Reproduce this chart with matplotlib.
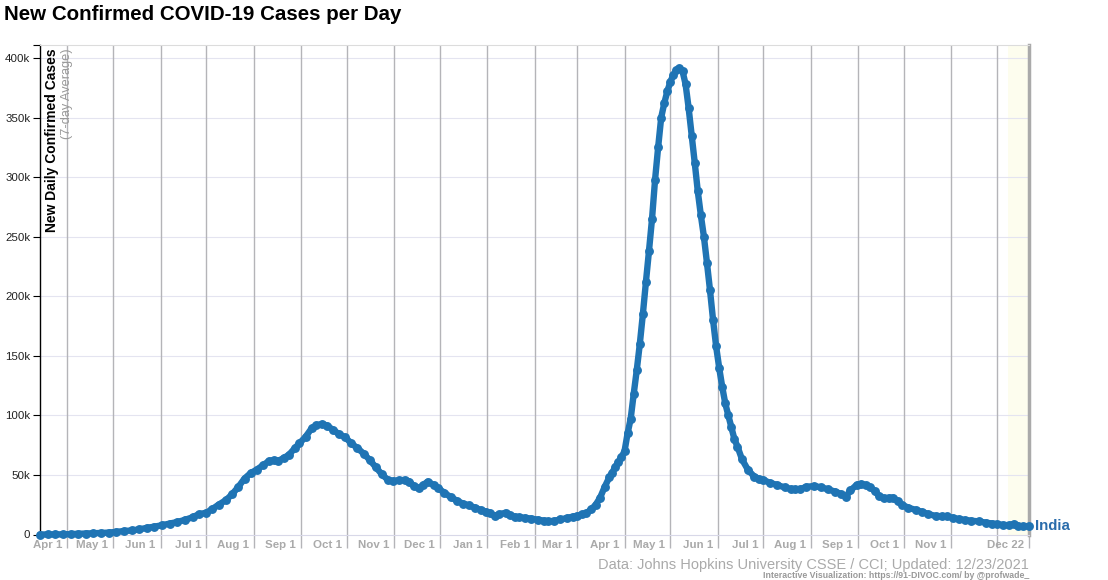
import matplotlib.pyplot as plt
import matplotlib.dates as mdates
import numpy as np

plt.rcParams['font.family'] = ['Liberation Sans', 'DejaVu Sans']

# 7-day average of new cases for India, thousands
dates_2020 = [
    '2020-03-14', '2020-03-19', '2020-03-24', '2020-03-29', '2020-04-03', '2020-04-08',
    '2020-04-13', '2020-04-18', '2020-04-23', '2020-04-28', '2020-05-03', '2020-05-08',
    '2020-05-13', '2020-05-18', '2020-05-23', '2020-05-28', '2020-06-02', '2020-06-07',
    '2020-06-12', '2020-06-17', '2020-06-22', '2020-06-26', '2020-07-01', '2020-07-05',
    '2020-07-09', '2020-07-14', '2020-07-18', '2020-07-22', '2020-07-26', '2020-07-30',
    '2020-08-03', '2020-08-07', '2020-08-11', '2020-08-14', '2020-08-17', '2020-08-21',
    '2020-08-24', '2020-08-28', '2020-08-31', '2020-09-04', '2020-09-08', '2020-09-11',
    '2020-09-15', '2020-09-18', '2020-09-22', '2020-09-26', '2020-09-30', '2020-10-04',
    '2020-10-08', '2020-10-12', '2020-10-16', '2020-10-20', '2020-10-24', '2020-10-28',
    '2020-10-31', '2020-11-04', '2020-11-08', '2020-11-11', '2020-11-14', '2020-11-17',
    '2020-11-20', '2020-11-23', '2020-11-27', '2020-11-30', '2020-12-04', '2020-12-08',
    '2020-12-12', '2020-12-16', '2020-12-20', '2020-12-24', '2020-12-28', '2020-12-31',
]
cases_2020 = [
    0.0, 0.02, 0.07, 0.13, 0.35, 0.6,
    0.8, 1.0, 1.3, 1.6, 2.2, 2.9,
    3.4, 4.3, 5.6, 6.6, 7.8, 9.2,
    10.5, 12.3, 14.5, 17.0, 18.3, 21.5,
    25.0, 29.0, 34.0, 40.0, 47.0, 51.5,
    54.5, 58.0, 61.7, 62.5, 61.7, 64.5,
    66.8, 72.5, 76.6, 82.0, 89.2, 91.8,
    92.8, 91.5, 87.8, 84.2, 81.6, 76.5,
    72.5, 68.0, 62.6, 56.5, 50.5, 45.8,
    45.0, 45.5, 45.8, 44.5, 40.5, 38.8,
    41.5, 44.4, 41.5, 38.8, 35.0, 31.5,
    28.5, 26.0, 24.5, 22.5, 20.5, 19.2,
]

dates_2021 = [
    '2021-01-03', '2021-01-06', '2021-01-09', '2021-01-13', '2021-01-16', '2021-01-19',
    '2021-01-22', '2021-01-26', '2021-01-30', '2021-02-03', '2021-02-07', '2021-02-10',
    '2021-02-14', '2021-02-18', '2021-02-22', '2021-02-26', '2021-03-01', '2021-03-04',
    '2021-03-07', '2021-03-10', '2021-03-13', '2021-03-16', '2021-03-19', '2021-03-22',
    '2021-03-24', '2021-03-26', '2021-03-28', '2021-03-30', '2021-04-01', '2021-04-03',
    '2021-04-05', '2021-04-07', '2021-04-09', '2021-04-11', '2021-04-13', '2021-04-15',
    '2021-04-17', '2021-04-19', '2021-04-21', '2021-04-23', '2021-04-25', '2021-04-27',
    '2021-04-29', '2021-05-01', '2021-05-03', '2021-05-05', '2021-05-07', '2021-05-09',
    '2021-05-11', '2021-05-13', '2021-05-15', '2021-05-17', '2021-05-19', '2021-05-21',
    '2021-05-23', '2021-05-25', '2021-05-27', '2021-05-29', '2021-05-31', '2021-06-02',
    '2021-06-04', '2021-06-06', '2021-06-08', '2021-06-10', '2021-06-12', '2021-06-14',
    '2021-06-17', '2021-06-21', '2021-06-25', '2021-06-28', '2021-07-01', '2021-07-05',
    '2021-07-10', '2021-07-15', '2021-07-19', '2021-07-22', '2021-07-25', '2021-07-29',
    '2021-08-03', '2021-08-08', '2021-08-12', '2021-08-17', '2021-08-21', '2021-08-24',
    '2021-08-27', '2021-08-31', '2021-09-03', '2021-09-06', '2021-09-09', '2021-09-12',
    '2021-09-15', '2021-09-18', '2021-09-21', '2021-09-24', '2021-09-27', '2021-09-30',
    '2021-10-04', '2021-10-09', '2021-10-13', '2021-10-17', '2021-10-22', '2021-10-26',
    '2021-10-29', '2021-11-02', '2021-11-06', '2021-11-10', '2021-11-14', '2021-11-19',
    '2021-11-24', '2021-11-28', '2021-12-01', '2021-12-05', '2021-12-09', '2021-12-12',
    '2021-12-15', '2021-12-18', '2021-12-22',
]
cases_2021 = [
    18.2, 15.5, 17.0, 18.3, 16.0, 15.0,
    14.4, 14.0, 13.3, 12.5, 11.6, 11.0,
    11.5, 12.6, 13.8, 15.0, 15.8, 16.8,
    17.8, 21.0, 24.8, 31.0, 40.0, 48.0,
    52.0, 57.0, 61.0, 65.0, 70.0, 85.0,
    97.0, 118.0, 138.0, 160.0, 185.0, 212.0,
    238.0, 265.0, 298.0, 325.0, 350.0, 362.0,
    372.0, 380.0, 386.0, 390.0, 391.5, 389.0,
    378.0, 358.0, 335.0, 312.0, 288.0, 268.0,
    250.0, 228.0, 205.0, 180.0, 158.0, 140.0,
    124.0, 110.0, 100.0, 90.0, 80.0, 73.8,
    63.0, 54.0, 48.6, 46.8, 45.8, 43.5,
    41.6, 39.5, 38.2, 38.0, 38.0, 40.0,
    40.7, 39.6, 38.0, 36.0, 34.0, 31.8,
    37.0, 41.6, 42.5, 41.6, 39.5, 36.5,
    32.0, 30.4, 30.8, 31.0, 28.0, 24.8,
    22.5, 20.6, 19.0, 17.2, 15.5, 15.4,
    15.2, 14.0, 13.0, 12.2, 11.6, 11.0,
    9.9, 9.2, 8.6, 8.0, 7.8, 9.0,
    7.3, 6.8, 7.1,
]

month_ticks = [
    '2020-04-01', '2020-05-01', '2020-06-01', '2020-07-01', '2020-08-01', '2020-09-01',
    '2020-10-01', '2020-11-01', '2020-12-01', '2021-01-01', '2021-02-01', '2021-03-01',
    '2021-04-01', '2021-05-01', '2021-06-01', '2021-07-01', '2021-08-01', '2021-09-01',
    '2021-10-01', '2021-11-01', '2021-12-01',
]
month_labels = [
    'Apr 1', 'May 1', 'Jun 1', 'Jul 1', 'Aug 1', 'Sep 1', 'Oct 1', 'Nov 1', 'Dec 1',
    'Jan 1', 'Feb 1', 'Mar 1', 'Apr 1', 'May 1', 'Jun 1', 'Jul 1', 'Aug 1', 'Sep 1',
    'Oct 1', 'Nov 1', '',
]
end_label = 'Dec 22'
y_ticks = [0, 50000, 100000, 150000, 200000, 250000, 300000, 350000, 400000]
y_labels = ['0', '50k', '100k', '150k', '200k', '250k', '300k', '350k', '400k']

x = mdates.date2num(np.array(dates_2020 + dates_2021, dtype='datetime64[D]'))
y = np.array(cases_2020 + cases_2021) * 1000
xt = mdates.date2num(np.array(month_ticks, dtype='datetime64[D]'))
x_start = mdates.date2num(np.datetime64('2020-03-14'))
x_end = mdates.date2num(np.datetime64('2021-12-22'))
x_shade = mdates.date2num(np.datetime64('2021-12-08'))

W, H = 1108, 580
fig = plt.figure(figsize=(W / 100, H / 100), dpi=100)
ax = fig.add_axes([40 / W, (H - 534.5) / H, (1029 - 40) / W, (534.5 - 45) / H])
ax.set_xlim(x_start, x_end)
ax.set_ylim(0, 411000)

grey = '#b4b4b8'
for v in y_ticks[1:]:
    ax.axhline(v, color='#e4e4f0', lw=0.8, zorder=1)
for t in xt:
    ax.axvline(t, color=grey, lw=1.0, zorder=1)
ax.axvspan(x_shade, x_end, color='#fdfdee', zorder=0, lw=0)

ax.plot(x, y, color='#1f74b4', lw=4.6, marker='o', ms=6.4, mew=0,
        clip_on=False, zorder=5, solid_joinstyle='round', solid_capstyle='round')

ax.annotate('India', xy=(x[-1], y[-1]), xytext=(4, 0), textcoords='offset points',
            ha='left', va='center', color='#2a6cab', fontweight='bold',
            fontsize=10.8, annotation_clip=False)

# axes frame
ax.spines['left'].set_color('black')
ax.spines['left'].set_linewidth(1.0)
ax.spines['top'].set_color('#dcdcdc')
ax.spines['top'].set_linewidth(0.8)
ax.spines['bottom'].set_color('#d8d8e8')
ax.spines['bottom'].set_linewidth(0.8)
ax.spines['right'].set_color('#aaaaaa')
ax.spines['right'].set_linewidth(2.5)

ax.set_yticks(y_ticks + [411000])
ax.set_yticklabels(y_labels + [''])
ax.tick_params(axis='y', length=5, width=0.8, color='black', labelsize=8.25,
               labelcolor='#222222', pad=2)

ax.set_xticks(list(xt) + [x_end])
ax.set_xticklabels([])
ax.tick_params(axis='x', length=9.5, width=1.0, color=grey)
for t, lab in zip(xt, month_labels):
    ax.annotate(lab, xy=(t, 0), xytext=(-3.4, -7.2), textcoords='offset points',
                ha='right', va='center', color='#aaaaaa', fontweight='bold',
                fontsize=8.25, annotation_clip=False)
ax.annotate(end_label, xy=(x_end, 0), xytext=(-3.4, -7.2), textcoords='offset points',
            ha='right', va='center', color='#aaaaaa', fontweight='bold',
            fontsize=8.25, annotation_clip=False)

ax.annotate('New Daily Confirmed Cases', xy=(0, 1), xycoords='axes fraction',
            xytext=(8.3, -2.2), textcoords='offset points', rotation=90,
            ha='center', va='top', fontweight='bold', fontsize=10.0, color='black')
ax.annotate('(7-day Average)', xy=(0, 1), xycoords='axes fraction',
            xytext=(19.2, -2.2), textcoords='offset points', rotation=90,
            ha='center', va='top', fontsize=9.2, color='#999999')

fig.text(4 / W, 1 - 15 / H, 'New Confirmed COVID-19 Cases per Day',
         ha='left', va='center', fontsize=14.8, fontweight='bold', color='black')
fig.text(1029 / W, 1 - 565 / H,
         'Data: Johns Hopkins University CSSE / CCI; Updated: 12/23/2021',
         ha='right', va='center', fontsize=10.5, color='#aaaaaa')
fig.text(1029 / W, 1 - 575.5 / H,
         'Interactive Visualization: https://91-DIVOC.com/ by @profwade_',
         ha='right', va='center', fontsize=6.3, fontweight='bold', color='#999999')

fig.savefig('out.png', dpi=100, facecolor='white')
